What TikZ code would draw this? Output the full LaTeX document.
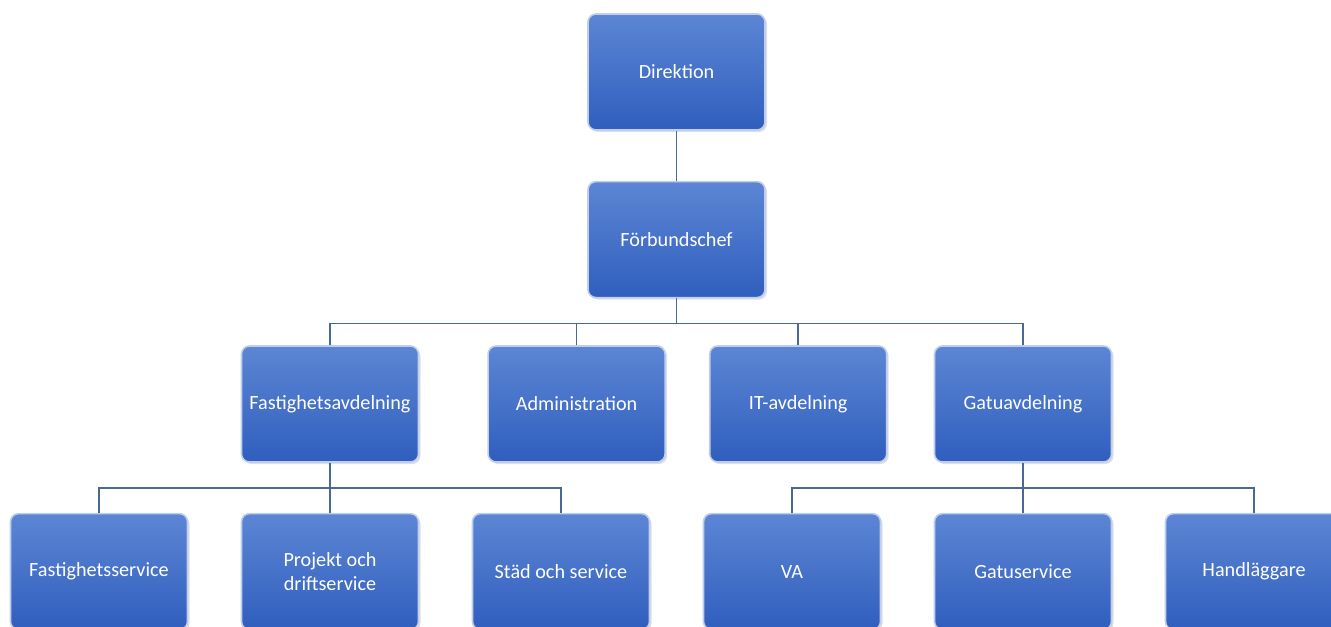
\documentclass[tikz,border=0pt]{standalone}
\usepackage{fontspec}
\setmainfont{Carlito}
\usepackage{xcolor}
\definecolor{colorBoxTop}{RGB}{92,134,212}
\definecolor{colorBoxBottom}{RGB}{48,94,190}
\definecolor{colorBoxEdge}{RGB}{190,206,236}
\definecolor{colorLink}{RGB}{72,104,150}
\usepackage{tikz}
\usetikzlibrary{positioning, shadows}
\tikzset{unit/.style={rectangle, rounded corners=4pt, minimum width=88.5pt, minimum height=58pt,
    top color=colorBoxTop, bottom color=colorBoxBottom, draw=colorBoxEdge, line width=0.8pt,
    text=white, font=\fontsize{10.1}{11.6}\selectfont, align=center,
    drop shadow={opacity=0.25, shadow xshift=1pt, shadow yshift=-1pt}}}

\begin{document}
\begin{tikzpicture}[link/.style={draw=colorLink, line width=0.8pt}]
\useasboundingbox (0,0) rectangle (665.5pt,-313pt);
\node[unit] (dir) at (338.25pt,-36pt) {Direktion};
\node[unit, below=25pt of dir] (forb) {Förbundschef};
\node[unit] (fast) at (165pt,-202pt) {Fastighetsavdelning};
\node[unit, right=34pt of fast] (admin) {Administration};
\node[unit, right=21.5pt of admin] (it) {IT-avdelning};
\node[unit, below=25pt of fast] (proj) {Projekt och\\driftservice};
\node[unit, left=26.2pt of proj] (fserv) {Fastighetsservice};
\node[unit, right=26.2pt of proj] (stad) {Städ och service};
\node[unit, right=26.2pt of stad] (va) {VA};
\node[unit, right=26.2pt of va] (gserv) {Gatuservice};
\node[unit, right=26.2pt of gserv] (handl) {Handläggare};
\node[unit, above=25pt of gserv] (gata) {Gatuavdelning};
% connectors
\draw[link] (dir) -- (forb);
\foreach \child in {fast, admin, it, gata}
  \draw[link] (forb.south) -- ++(0,-12.5pt) -| (\child.north);
\foreach \child in {fserv, proj, stad}
  \draw[link] (fast.south) -- ++(0,-12.5pt) -| (\child.north);
\foreach \child in {va, gserv, handl}
  \draw[link] (gata.south) -- ++(0,-12.5pt) -| (\child.north);
\end{tikzpicture}
\end{document}
